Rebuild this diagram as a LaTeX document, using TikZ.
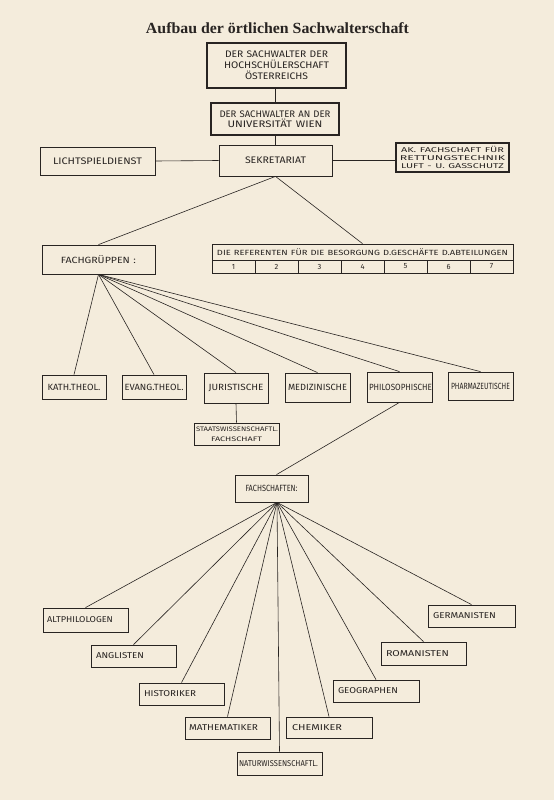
\documentclass[tikz,border=0pt]{standalone}
\usepackage{fontspec}
\usepackage{graphicx}
\setmainfont{Liberation Serif}
\newfontfamily\boxfont{Fira Sans}
\usetikzlibrary{calc}
\definecolor{paper}{RGB}{244,236,220}
\definecolor{ink}{RGB}{40,36,34}
\newcommand\fw[2]{\resizebox{#1pt}{\height}{#2}}
\newcommand\bx[7][]{%
 \pgfmathsetmacro\bw{(#5)-(#3)}\pgfmathsetmacro\bh{(#6)-(#4)}%
 \pgfmathsetmacro\bcx{((#3)+(#5))/2}\pgfmathsetmacro\bcy{((#4)+(#6))/2}%
 \pgfmathsetmacro\btw{(#5)-(#3)-4}%
 \node[box,minimum width=\bw pt,minimum height=\bh pt,text width=\btw pt,#1] (#2) at (\bcx,\bcy) {#7};}
\begin{document}
\begin{tikzpicture}[x=1pt,y=-1pt,
 box/.style={draw=ink,line width=0.8pt,inner xsep=2pt,inner ysep=0pt,align=center,text=ink,font=\boxfont\fontsize{9}{10}\selectfont},
 heavy/.style={line width=2.4pt},
 lft/.style={align=left,font=\boxfont\fontsize{8.5}{10}\selectfont},
 link/.style={draw=ink,line width=0.6pt}]
\fill[paper] (0,0) rectangle (554,800);
\useasboundingbox (0,0) rectangle (554,800);
\node[font=\bfseries\fontsize{15.5}{18}\selectfont,text=ink] (title) at (277.5,28) {\fw{263}{Aufbau der örtlichen Sachwalterschaft}};
% top
\bx[heavy,font=\boxfont\fontsize{9.5}{11}\selectfont]{oes}{207}{43}{346}{88}{\fw{103}{DER SACHWALTER DER}\\\fw{105}{HOCHSCHÜLERSCHAFT}\\\fw{63}{ÖSTERREICHS}}
\bx[heavy,font=\boxfont\fontsize{9.5}{10.5}\selectfont]{uni}{211}{103}{339}{135}{\fw{111}{DER SACHWALTER AN DER}\\\fw{95}{UNIVERSITÄT WIEN}}
\bx[font=\boxfont\fontsize{9.5}{11}\selectfont]{licht}{40}{147}{155}{175}{\fw{89}{LICHTSPIELDIENST}}
\bx[font=\boxfont\fontsize{9.5}{11}\selectfont]{sekr}{219}{145}{332}{176}{\fw{61}{SEKRETARIAT}}
\bx[line width=1.3pt,font=\boxfont\fontsize{7}{7.6}\selectfont]{ak}{396}{143}{509}{172}{\fw{103}{AK. FACHSCHAFT FÜR}\\\fw{105}{RETTUNGSTECHNIK}\\\fw{103}{LUFT - U. GASSCHUTZ}}
% second level
\bx{fg}{42}{245}{155}{274}{\fw{75}{FACHGRÜPPEN :}}
\bx[font=\boxfont\fontsize{7.5}{9}\selectfont]{ref}{212}{244}{513}{260}{\fw{291}{DIE REFERENTEN FÜR DIE BESORGUNG D.GESCHÄFTE D.ABTEILUNGEN}}
\foreach \k in {1,...,7}{
 \bx[font=\boxfont\fontsize{7.5}{9}\selectfont]{r\k}{212+43*(\k-1)}{260}{255+43*(\k-1)}{273}{\k}
}
% faculties
\bx{kath}{42}{375}{106}{399}{\fw{53}{KATH.THEOL.}}
\bx{evang}{122}{375}{186}{399}{\fw{59}{EVANG.THEOL.}}
\bx{jur}{204}{373}{268}{403}{\fw{55}{JURISTISCHE}}
\bx{med}{285}{373}{350}{402}{\fw{59}{MEDIZINISCHE}}
\bx{phil}{367}{372}{432}{402}{\fw{63}{PHILOSOPHISCHE}}
\bx{pharm}{448}{372}{513}{400}{\fw{59}{PHARMAZEUTISCHE}}
\bx[font=\boxfont\fontsize{6.5}{10}\selectfont]{staats}{194}{423}{279}{445}{\fw{82}{STAATSWISSENSCHAFTL.}\\\fw{51}{FACHSCHAFT}}
\bx{fsch}{235}{475}{308}{502}{\fw{52}{FACHSCHAFTEN:}}
% departments
\bx[lft]{alt}{43}{608}{128}{632}{\hspace*{2pt}\fw{66}{ALTPHILOLOGEN}}
\bx[lft]{ang}{91}{645}{176}{667}{\hspace*{3pt}\fw{48}{ANGLISTEN}}
\bx[lft]{hist}{139}{683}{224}{705}{\hspace*{3pt}\fw{52}{HISTORIKER}}
\bx[lft]{math}{185}{717}{270}{739}{\hspace*{2pt}\fw{69}{MATHEMATIKER}}
\bx[lft]{nat}{237}{752}{322}{775}{\fw{79}{NATURWISSENSCHAFTL.}}
\bx[lft]{chem}{286}{717}{372}{738}{\hspace*{4pt}\fw{50}{CHEMIKER}}
\bx[lft]{geo}{333}{680}{419}{702}{\hspace*{3pt}\fw{60}{GEOGRAPHEN}}
\bx[lft]{rom}{381}{642}{466}{665}{\hspace*{3pt}\fw{63}{ROMANISTEN}}
\bx[lft]{germ}{428}{605}{515}{627}{\hspace*{3pt}\fw{63}{GERMANISTEN}}
% connectors
\draw[link] (uni.north|-oes.south) -- (uni.north);
\draw[link] (uni.south) -- (uni.south|-sekr.north);
\draw[link] (licht.east) -- (sekr.west);
\draw[link] (sekr.east) -- (sekr.east-|ak.west);
\draw[link] (sekr.south) -- (fg.north);
\draw[link] (sekr.south) -- (ref.north);
\foreach \n in {kath,evang,jur,med,phil,pharm} \draw[link] (fg.south) -- (\n.north);
\draw[link] (jur.south) -- (staats.north);
\draw[link] (phil.south) -- ($(fsch.north)+(5,0)$);
\coordinate (fso) at ($(fsch.south)+(5.5,0)$);
\foreach \n in {alt,ang,hist,math,nat,chem,geo,rom,germ} \draw[link] (fso) -- (\n.north);
\end{tikzpicture}
\end{document}
